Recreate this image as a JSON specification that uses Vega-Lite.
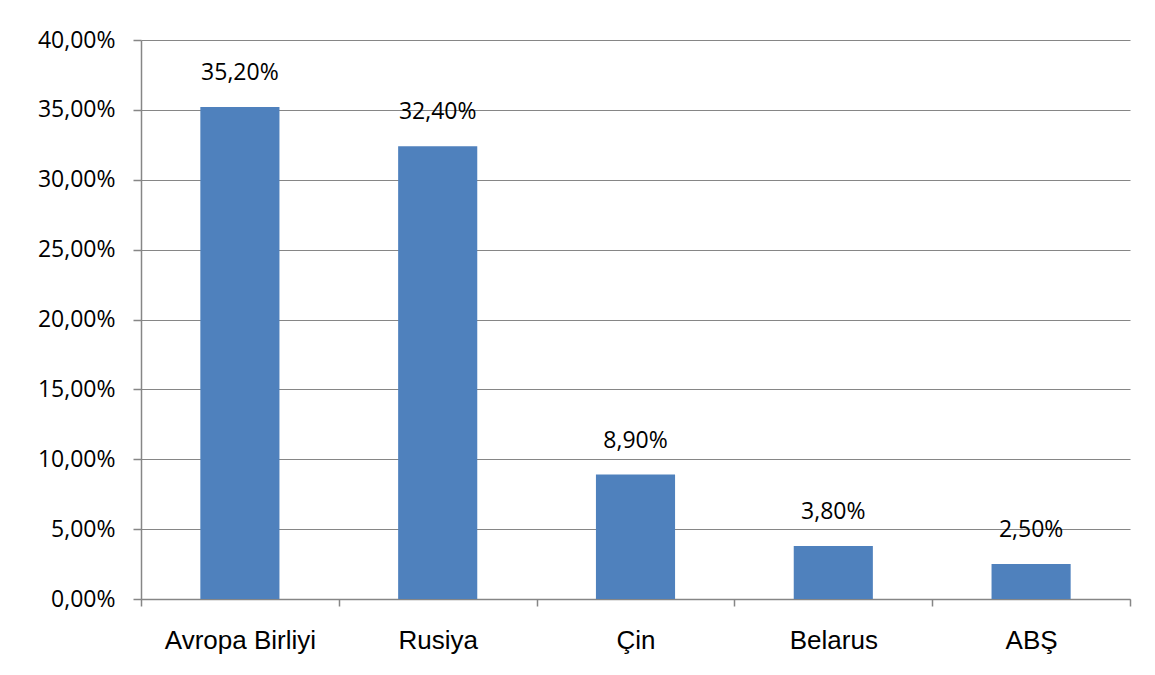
{
  "$schema": "https://vega.github.io/schema/vega-lite/v6.json",
  "width": 989,
  "height": 559,
  "autosize": "none",
  "padding": {"left": 141, "top": 40, "right": 25, "bottom": 76},
  "background": "white",
  "config": {
    "locale": {
      "number": {"decimal": ",", "thousands": ".", "grouping": [3], "currency": ["", " ₼"]}
    },
    "view": {"stroke": null}
  },
  "data": {
    "values": [
      {"country": "Avropa Birliyi", "share": 0.352},
      {"country": "Rusiya", "share": 0.324},
      {"country": "Çin", "share": 0.089},
      {"country": "Belarus", "share": 0.038},
      {"country": "ABŞ", "share": 0.025}
    ]
  },
  "encoding": {
    "x": {
      "field": "country",
      "type": "nominal",
      "sort": null,
      "scale": {"paddingInner": 0, "paddingOuter": 0},
      "axis": {
        "title": null,
        "labelAngle": 0,
        "labelFont": "Liberation Sans",
        "labelFontSize": 26,
        "labelColor": "#000000",
        "labelPadding": 21,
        "tickBand": "extent",
        "tickSize": 7,
        "tickColor": "#868686",
        "tickWidth": 1.5,
        "domainColor": "#868686",
        "domainWidth": 1.5,
        "grid": false
      }
    },
    "y": {
      "field": "share",
      "type": "quantitative",
      "scale": {"domain": [0, 0.4], "nice": false},
      "axis": {
        "title": null,
        "values": [0, 0.05, 0.1, 0.15, 0.2, 0.25, 0.3, 0.35, 0.4],
        "format": ".2%",
        "labelFont": "Open Sans",
        "labelFontSize": 23,
        "labelColor": "#000000",
        "labelPadding": 18,
        "tickSize": 8,
        "tickColor": "#868686",
        "tickWidth": 1.5,
        "domainColor": "#868686",
        "domainWidth": 1.5,
        "grid": true,
        "gridColor": "#868686",
        "gridWidth": 1.2
      }
    }
  },
  "layer": [
    {
      "mark": {"type": "bar", "color": "#4F81BD", "width": {"band": 0.4}}
    },
    {
      "mark": {
        "type": "text",
        "font": "Open Sans",
        "fontSize": 23,
        "color": "#000000",
        "align": "center",
        "baseline": "alphabetic",
        "dy": -27
      },
      "encoding": {
        "text": {"field": "share", "type": "quantitative", "format": ".2%"}
      }
    }
  ]
}
